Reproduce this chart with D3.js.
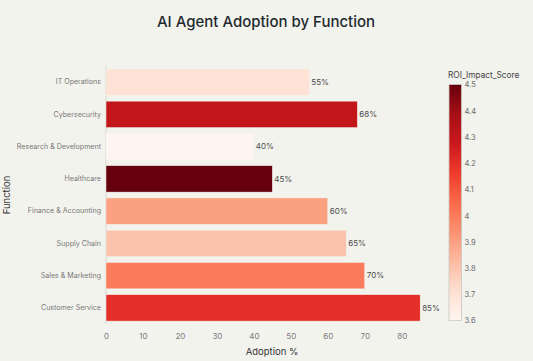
<!DOCTYPE html>
<html><head><meta charset="utf-8">
<script src="https://cdn.jsdelivr.net/npm/d3@7"></script>
<style>
html,body{margin:0;padding:0;background:#f3f3ee;}
svg{display:block;font-family:Inter,"Noto Sans",sans-serif;}
</style></head>
<body><svg id="c" width="533" height="361"></svg>
<script>
const functions = ["IT Operations","Cybersecurity","Research & Development","Healthcare","Finance & Accounting","Supply Chain","Sales & Marketing","Customer Service"];
const adoption = [55, 68, 40, 45, 60, 65, 70, 85];
const roiScore = [3.7, 4.3, 3.6, 4.5, 3.9, 3.8, 4.0, 4.2];
const xTicks = [0,10,20,30,40,50,60,70,80];
const cbTicks = [3.6,3.7,3.8,3.9,4,4.1,4.2,4.3,4.4,4.5];
const redsStops = ["rgb(255,245,240)","rgb(254,224,210)","rgb(252,187,161)","rgb(252,146,114)","rgb(251,106,74)","rgb(239,59,44)","rgb(203,24,29)","rgb(165,15,21)","rgb(103,0,13)"];

const svg = d3.select("#c");
svg.append("rect").attr("width",533).attr("height",361).attr("fill","#f3f3ee");

const m = {l:106, r:437, t:66, b:324};
const x = d3.scaleLinear().domain([0,80]).range([m.l, 401.7]);
const y = d3.scaleBand().domain(functions).range([m.t, m.b]).paddingInner(0.18).paddingOuter(0.09);
const cmin = 3.6, cmax = 4.5;
const interp = d3.piecewise(d3.interpolateRgb, redsStops);
const color = v => interp((v - cmin)/(cmax - cmin));

// zero line
svg.append("line").attr("x1",x(0)).attr("x2",x(0)).attr("y1",m.t).attr("y2",m.b)
  .attr("stroke","#d6d6d0").attr("stroke-width",1);

const data = functions.map((f,i)=>({f, a:adoption[i], r:roiScore[i]}));
svg.append("g").selectAll("rect").data(data).join("rect")
  .attr("x", x(0)).attr("y", d=>y(d.f))
  .attr("width", d=>x(d.a)-x(0)).attr("height", y.bandwidth())
  .attr("fill", d=>color(d.r))
  .attr("stroke","#f3f3ee").attr("stroke-width",0.5);

svg.append("g").selectAll("text").data(data).join("text")
  .attr("x", d=>x(d.a)+2).attr("y", d=>y(d.f)+y.bandwidth()/2)
  .attr("dy","0.35em").attr("font-size",8).attr("fill","#4a4a4a")
  .text(d=>d.a+"%");

// x axis
const xa = svg.append("g").attr("transform",`translate(0,${m.b})`)
  .call(d3.axisBottom(x).tickValues(xTicks).tickSize(0).tickPadding(9));
xa.select(".domain").remove();
xa.selectAll("text").attr("font-size",8).attr("fill","#7a7a7a").attr("font-family","Inter,sans-serif");

// y axis
const ya = svg.append("g").attr("transform",`translate(${m.l},0)`)
  .call(d3.axisLeft(y).tickSize(0).tickPadding(5));
ya.select(".domain").remove();
ya.selectAll("text").attr("font-size",7.1).attr("fill","#777").attr("font-family","Inter,sans-serif");

// titles
svg.append("text").attr("x",266).attr("y",27).attr("text-anchor","middle")
  .attr("font-size",15).attr("font-weight",500).attr("fill","#1f2a2e").text("AI Agent Adoption by Function");
svg.append("text").attr("x",272).attr("y",355).attr("text-anchor","middle")
  .attr("font-size",9.5).attr("fill","#333").text("Adoption %");
svg.append("text").attr("transform","translate(10,195) rotate(-90)").attr("text-anchor","middle")
  .attr("font-size",9.5).attr("fill","#333").text("Function");

// colorbar
const cbX = 449, cbW = 12.5, cbTop = 84.5, cbBot = 320.5;
const defs = svg.append("defs");
const grad = defs.append("linearGradient").attr("id","cbg").attr("x1","0").attr("y1","1").attr("x2","0").attr("y2","0");
redsStops.forEach((c,i)=>grad.append("stop").attr("offset",(i/(redsStops.length-1))).attr("stop-color",c));
svg.append("rect").attr("x",cbX).attr("y",cbTop).attr("width",cbW).attr("height",cbBot-cbTop)
  .attr("fill","url(#cbg)").attr("stroke","#c8c8c4").attr("stroke-width",0.8);
const cy = d3.scaleLinear().domain([cmin,cmax]).range([cbBot,cbTop]);
const ca = svg.append("g").attr("transform",`translate(${cbX+cbW},0)`)
  .call(d3.axisRight(cy).tickValues(cbTicks).tickFormat(d3.format("")).tickSize(0).tickPadding(3));
ca.select(".domain").remove();
ca.selectAll("text").attr("font-size",7.5).attr("fill","#6a6a6a").attr("font-family","Inter,sans-serif");
svg.append("text").attr("x",448).attr("y",78).attr("font-size",8.3).attr("fill","#444").text("ROI_Impact_Score");
</script></body></html>
